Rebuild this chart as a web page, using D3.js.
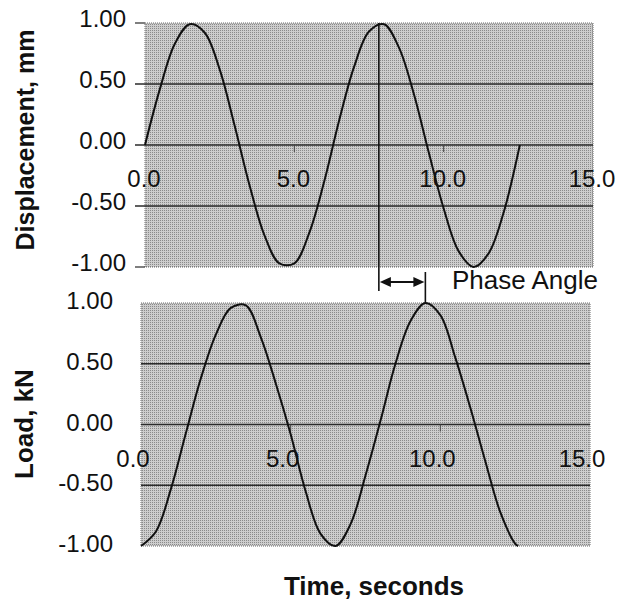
<!DOCTYPE html>
<html><head><meta charset="utf-8">
<script src="https://cdn.jsdelivr.net/npm/d3@7"></script>
<style>body{margin:0;background:#fff}svg{display:block}</style>
</head><body>
<svg id="c" width="623" height="602"></svg>
<script>
// ---- data ----
const timeDisp = [0,0.5,1,1.5,2,2.5,3,3.5,4,4.5,5,5.5,6,6.5,7,7.5,8,8.5,9,9.5,10,10.5,11,11.5,12,12.55];
const displacement = [0.00,0.46,0.83,0.99,0.92,0.62,0.16,-0.33,-0.74,-0.97,-0.97,-0.72,-0.30,0.20,0.64,0.93,0.99,0.80,0.42,-0.06,-0.52,-0.87,-1.00,-0.89,-0.56,0.00];
const timeLoad = [0,0.5,1,1.5,2,2.5,3,3.5,4,4.5,5,5.5,6,6.5,7,7.5,8,8.5,9,9.5,10,10.5,11,11.5,12,12.5,12.6];
const load = [-1.00,-0.88,-0.53,-0.07,0.38,0.74,0.96,0.98,0.72,0.34,-0.08,-0.55,-0.90,-1.00,-0.82,-0.42,0.03,0.50,0.85,1.00,0.90,0.55,0.14,-0.30,-0.72,-0.98,-1.00];
const xTicks = [0, 5, 10, 15];
const xTickLabels = ["0.0","5.0","10.0","15.0"];
const yTicks = [1, 0.5, 0, -0.5, -1];
const yTickLabels = ["1.00","0.50","0.00","-0.50","-1.00"];
const phaseStart = 7.83, phaseEnd = 9.5;

const svg = d3.select("#c");
const defs = svg.append("defs");
const pat = defs.append("pattern").attr("id","dots").attr("patternUnits","userSpaceOnUse")
  .attr("width",2).attr("height",2);
pat.append("rect").attr("width",2).attr("height",2).attr("fill","#cdcdcd");
pat.append("rect").attr("width",1).attr("height",1).attr("fill","#8a8a8a");

const FONT = "'Liberation Sans', Arial, Helvetica, sans-serif";

function panel(opt) {
  const x = d3.scaleLinear().domain([0,15]).range([opt.left, opt.right]);
  const y = d3.scaleLinear().domain([-1,1]).range([opt.bottom, opt.top]);
  const g = svg.append("g");
  g.append("rect").attr("x",opt.left).attr("y",opt.top)
    .attr("width",opt.right-opt.left).attr("height",opt.bottom-opt.top)
    .attr("fill","url(#dots)").attr("stroke","#6a6a6a").attr("stroke-width",1)
    .attr("stroke-dasharray","1,1");
  g.selectAll("line.grid").data([0.5,0,-0.5]).join("line")
    .attr("x1",opt.left - opt.tickOut).attr("x2",opt.right)
    .attr("y1",d=>y(d)).attr("y2",d=>y(d))
    .attr("stroke","#2a2a2a").attr("stroke-width",1.4);
  if (opt.tickOut > 0) {
    g.selectAll("line.yt").data([1,-1]).join("line")
      .attr("x1",opt.left - opt.tickOut).attr("x2",opt.left)
      .attr("y1",d=>y(d)).attr("y2",d=>y(d))
      .attr("stroke","#2a2a2a").attr("stroke-width",1.2);
  }
  g.selectAll("text.yl").data(yTicks).join("text")
    .attr("x",opt.yLabelRight).attr("y",d=>y(d)+opt.yLabelDy)
    .attr("text-anchor","end").attr("font-family",FONT).attr("font-size",24)
    .attr("fill","#111").text((d,i)=>yTickLabels[i]);
  g.selectAll("line.xt").data(xTicks.slice(1,3)).join("line")
    .attr("x1",d=>x(d)).attr("x2",d=>x(d)).attr("y1",y(0)).attr("y2",y(0)+7)
    .attr("stroke","#444").attr("stroke-width",1);
  g.selectAll("text.xl").data(xTicks).join("text")
    .attr("x",d=>x(d)+opt.xLabelDx).attr("y",y(0)+42)
    .attr("text-anchor","middle").attr("font-family",FONT).attr("font-size",24)
    .attr("fill","#111").text((d,i)=>xTickLabels[i]);
  const pts = opt.t.map((t,i)=>[t, opt.v[i]]);
  g.append("path").datum(pts)
    .attr("d", d3.line().x(d=>x(d[0])).y(d=>y(d[1])).curve(d3.curveCatmullRom.alpha(0.5)))
    .attr("fill","none").attr("stroke","#111").attr("stroke-width",2);
  g.append("text").attr("transform",`translate(${opt.titleX},${opt.titleY}) rotate(-90)`)
    .attr("text-anchor","middle").attr("font-family",FONT).attr("font-weight","bold")
    .attr("font-size",opt.titleSize).attr("fill","#111").text(opt.title);
  return {x,y};
}

const topPanel = panel({left:145,right:593,top:23,bottom:267,tickOut:10,yLabelRight:126,yLabelDy:4,xLabelDx:-1,
  t:timeDisp,v:displacement,title:"Displacement, mm",titleX:34,titleY:140,titleSize:25});
const botPanel = panel({left:141,right:590,top:303,bottom:546,tickOut:0,yLabelRight:113,yLabelDy:6,xLabelDx:-8,
  t:timeLoad,v:load,title:"Load, kN",titleX:33,titleY:424,titleSize:26});

const xa = topPanel.x(phaseStart), xb = botPanel.x(phaseEnd);
const ay = 282;
svg.append("line").attr("x1",xa).attr("x2",xa).attr("y1",topPanel.y(1)).attr("y2",291)
  .attr("stroke","#111").attr("stroke-width",1.6);
svg.append("line").attr("x1",xb).attr("x2",xb).attr("y1",272).attr("y2",botPanel.y(1))
  .attr("stroke","#111").attr("stroke-width",1.6);
svg.append("line").attr("x1",xa+8).attr("x2",xb-8).attr("y1",ay).attr("y2",ay)
  .attr("stroke","#111").attr("stroke-width",2);
svg.append("path").attr("d",`M${xa+1},${ay} L${xa+12},${ay-5} L${xa+12},${ay+5} Z`).attr("fill","#111");
svg.append("path").attr("d",`M${xb-1},${ay} L${xb-12},${ay-5} L${xb-12},${ay+5} Z`).attr("fill","#111");
svg.append("text").attr("x",452).attr("y",289).attr("font-family",FONT).attr("font-size",26)
  .attr("fill","#111").text("Phase Angle");

svg.append("text").attr("x",374).attr("y",595).attr("text-anchor","middle")
  .attr("font-family",FONT).attr("font-weight","bold").attr("font-size",26)
  .attr("fill","#111").text("Time, seconds");
</script>
</body></html>
